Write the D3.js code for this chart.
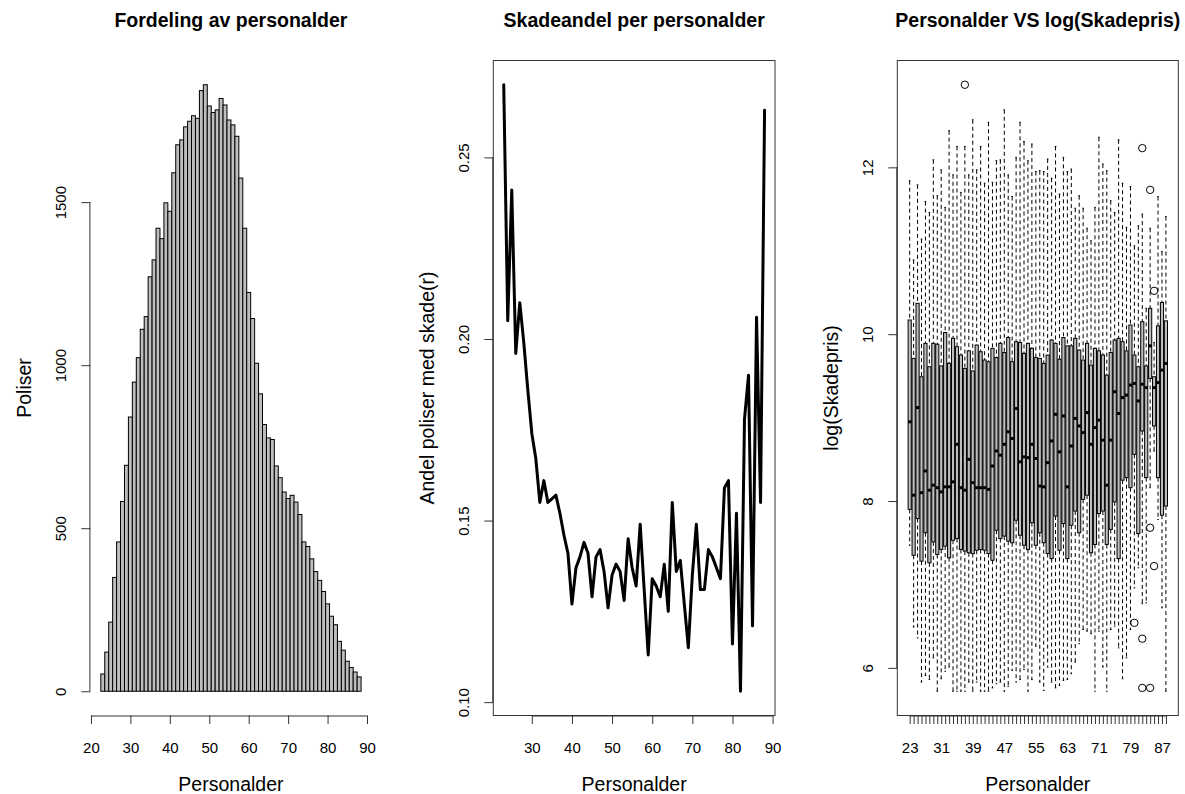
<!DOCTYPE html>
<html>
<head>
<meta charset="utf-8">
<script src="https://cdn.jsdelivr.net/npm/d3@7"></script>
<style>
body { margin: 0; background: #fff; }
text { font-family: "Liberation Sans", Arial, sans-serif; fill: #000; }
</style>
</head>
<body>
<script>
// ages (one bin / one box per age)
var ages = [23,24,25,26,27,28,29,30,31,32,33,34,35,36,37,38,39,40,41,42,43,44,
            45,46,47,48,49,50,51,52,53,54,55,56,57,58,59,60,61,62,63,64,65,66,
            67,68,69,70,71,72,73,74,75,76,77,78,79,80,81,82,83,84,85,86,87,88];

// histogram counts per age
var policyCounts = [53,120,212,349,458,582,693,841,948,1023,1110,1149,1271,1323,1420,1388,1498,1472,
                    1590,1676,1691,1731,1748,1765,1757,1842,1860,1795,1775,1783,1818,1798,1752,1737,
                    1702,1574,1420,1223,1143,1006,912,818,777,772,691,655,611,591,601,580,542,458,
                    444,406,367,340,306,268,230,204,153,126,92,73,59,44];

// share of policies with a claim, per age
var claimShare = [0.270,0.205,0.241,0.196,0.210,0.199,0.186,0.174,0.167,0.155,0.161,0.155,0.156,0.157,
                  0.152,0.146,0.141,0.127,0.137,0.140,0.144,0.141,0.129,0.140,0.142,0.136,0.126,0.135,
                  0.138,0.136,0.128,0.145,0.137,0.132,0.149,0.131,0.113,0.134,0.132,0.129,0.138,0.125,
                  0.155,0.136,0.139,0.127,0.115,0.135,0.149,0.131,0.131,0.142,0.140,0.137,0.134,0.159,
                  0.161,0.116,0.152,0.103,0.178,0.190,0.121,0.206,0.155,0.263];

// boxplot stats of log(Skadepris) per age
var boxLow = [7.47,6.49,6.36,5.83,5.91,5.86,6.12,5.72,5.87,5.96,6.01,5.72,5.72,5.72,5.72,5.83,5.72,5.83,
              5.72,5.72,5.72,5.76,5.81,5.83,5.72,5.78,5.97,5.83,5.86,5.98,5.72,5.86,6.26,5.83,5.73,6.01,
              5.83,5.76,5.79,5.85,5.86,5.93,6.07,6.29,6.46,6.44,6.41,5.72,6.44,6.01,5.72,6.46,6.50,6.24,
              5.87,6.12,6.46,6.96,7.20,6.77,6.78,8.16,8.60,7.78,6.72,5.72];
var boxQ1 = [7.90,7.35,7.79,7.28,7.62,7.26,7.51,7.36,7.42,7.46,7.32,7.53,7.55,7.42,7.40,7.38,7.37,7.41,
             7.42,7.41,7.37,7.29,7.65,7.55,7.58,7.52,7.50,7.77,7.59,7.47,7.42,7.74,7.47,7.62,7.50,7.37,
             7.31,7.82,7.41,7.73,7.31,7.71,7.88,7.62,8.02,8.07,7.38,7.48,7.85,7.88,7.48,7.66,7.99,7.31,
             8.25,8.28,8.16,8.56,7.61,8.84,8.28,9.47,8.90,8.28,7.83,7.94];
var boxMed = [8.95,8.07,9.12,8.10,8.36,8.13,8.19,8.16,8.11,8.17,8.17,8.23,8.68,8.16,8.13,8.50,8.22,8.16,
              8.16,8.16,8.14,8.42,8.60,8.55,8.68,8.83,8.75,9.11,8.47,8.53,8.52,8.68,8.51,8.18,8.17,8.46,
              8.72,9.04,8.59,9.02,8.17,8.66,8.99,8.90,8.82,9.06,8.68,8.88,8.97,8.73,8.19,8.73,9.31,9.05,
              9.24,9.27,9.39,9.41,9.20,9.40,9.36,9.86,9.36,9.42,9.57,9.65];
var boxQ3 = [10.17,9.71,10.37,9.49,9.89,9.61,9.89,9.88,9.62,10.02,9.65,9.95,9.85,9.75,9.59,9.80,9.56,9.87,
             9.79,9.69,9.67,9.83,9.72,9.89,9.78,9.96,9.67,9.91,9.90,9.77,9.89,9.83,9.72,9.71,9.65,9.75,
             9.93,9.89,9.70,9.96,9.86,9.86,9.95,9.81,9.69,9.89,9.63,9.83,9.80,9.75,9.51,9.78,9.93,9.95,
             9.91,9.80,10.11,9.75,9.61,10.15,9.62,10.31,9.49,10.10,10.38,10.16];
var boxHigh = [11.84,10.89,11.79,11.14,11.59,11.46,12.09,11.66,11.97,11.52,12.44,11.91,12.25,11.70,12.25,11.91,
               12.57,11.97,12.25,11.81,12.54,11.82,12.08,12.09,12.69,11.91,11.65,12.12,12.54,12.31,12.08,12.28,
               11.95,11.96,11.95,12.10,11.87,12.25,11.68,12.12,11.95,11.98,11.51,11.66,11.51,11.27,11.12,11.52,
               12.36,12.04,11.96,11.60,11.46,12.33,11.81,11.28,11.77,11.06,11.30,11.44,10.31,11.27,9.90,11.65,
               10.99,11.41];
var outlierAge = [37,80,82,82,82,84,84,84,85,85];
var outlierValue = [12.99,6.54,12.23,6.35,5.76,11.73,7.68,5.76,10.52,7.22];

var titles = ["Fordeling av personalder", "Skadeandel per personalder", "Personalder VS log(Skadepris)"];

var plotTop = 60.5, plotBottom = 715.5;
var font = "'Liberation Sans', Arial, sans-serif";
var lineCol = "#333";

function pad(ext) { var r = ext[1] - ext[0]; return [ext[0] - 0.04 * r, ext[1] + 0.04 * r]; }

var svg = d3.select("body").append("svg")
    .attr("width", 1185)
    .attr("height", 794);

function bottomAxis(scale, ticks, fmt) {
  var g = svg.append("g")
    .attr("transform", "translate(0," + plotBottom + ")")
    .call(d3.axisBottom(scale).tickValues(ticks).tickFormat(fmt).tickSize(8.5).tickSizeOuter(0));
  g.attr("font-size", 15).attr("font-family", font).attr("color", lineCol);
  g.select(".domain").attr("d", "M" + scale(ticks[0]) + ",0.5H" + scale(ticks[ticks.length - 1]));
  g.selectAll("text").attr("y", 37).attr("dy", null).style("fill", "#000");
  return g;
}

function leftAxis(scale, ticks, fmt, x) {
  var g = svg.append("g")
    .attr("transform", "translate(" + x + ",0)")
    .call(d3.axisLeft(scale).tickValues(ticks).tickFormat(fmt).tickSize(9).tickSizeOuter(0));
  g.attr("font-size", 15).attr("font-family", font).attr("color", lineCol);
  g.select(".domain").attr("d", "M-0.5," + scale(ticks[0]) + "V" + scale(ticks[ticks.length - 1]));
  g.selectAll("text")
    .attr("x", 0).attr("y", -24).attr("dy", null)
    .attr("text-anchor", "middle")
    .attr("transform", "rotate(-90)")
    .style("fill", "#000");
  return g;
}

function labels(i, left, right, xlab, ylab) {
  var cx = (left + right) / 2;
  svg.append("text")
    .attr("x", cx).attr("y", 27)
    .attr("text-anchor", "middle")
    .attr("font-size", 19.5).attr("font-weight", "bold")
    .text(titles[i]);
  svg.append("text")
    .attr("x", cx).attr("y", 791)
    .attr("text-anchor", "middle")
    .attr("font-size", 19.5)
    .text(xlab);
  svg.append("text")
    .attr("transform", "translate(" + (left - 59) + "," + ((plotTop + plotBottom) / 2) + ") rotate(-90)")
    .attr("text-anchor", "middle")
    .attr("font-size", 19.5)
    .text(ylab);
}

// ---------- panel 1: histogram ----------
var hL = 90.4, hR = 371.5;
var hx = d3.scaleLinear().domain(pad([ages[0] - 0.5, ages[ages.length - 1] + 0.5])).range([hL, hR]);
var hy = d3.scaleLinear().domain(pad([0, d3.max(policyCounts)])).range([plotBottom, plotTop]);

svg.append("g").selectAll("rect")
  .data(ages)
  .enter().append("rect")
  .attr("x", function(d) { return hx(d - 0.5); })
  .attr("width", function(d) { return hx(d + 0.5) - hx(d - 0.5); })
  .attr("y", function(d, i) { return hy(policyCounts[i]); })
  .attr("height", function(d, i) { return hy(0) - hy(policyCounts[i]); })
  .attr("fill", "#bebebe")
  .attr("stroke", "#000")
  .attr("stroke-width", 1);

bottomAxis(hx, [20,30,40,50,60,70,80,90], d3.format("d"));
leftAxis(hy, [0,500,1000,1500], d3.format("d"), hL);
labels(0, hL, hR, "Personalder", "Poliser");

// ---------- panel 2: claim share line ----------
var mL = 493.3, mR = 775;
var mx = d3.scaleLinear().domain(pad(d3.extent(ages))).range([mL, mR]);
var my = d3.scaleLinear().domain(pad(d3.extent(claimShare))).range([plotBottom, plotTop]);

svg.append("path")
  .datum(ages)
  .attr("fill", "none")
  .attr("stroke", "#000")
  .attr("stroke-width", 3)
  .attr("stroke-linejoin", "round")
  .attr("stroke-linecap", "round")
  .attr("d", d3.line()
    .x(function(d) { return mx(d); })
    .y(function(d, i) { return my(claimShare[i]); }));

svg.append("rect")
  .attr("x", mL).attr("y", plotTop)
  .attr("width", mR - mL).attr("height", plotBottom - plotTop)
  .attr("fill", "none").attr("stroke", lineCol);

bottomAxis(mx, [30,40,50,60,70,80,90], d3.format("d"));
leftAxis(my, [0.10,0.15,0.20,0.25], d3.format(".2f"), mL);
labels(1, mL, mR, "Personalder", "Andel poliser med skade(r)");

// ---------- panel 3: boxplots ----------
var bL = 897.3, bR = 1178.3;
var idx = ages.map(function(d, i) { return i + 1; });
var bx = d3.scaleLinear().domain(pad([0.5, ages.length + 0.5])).range([bL, bR]);
var allVals = boxLow.concat(boxHigh, outlierValue);
var by = d3.scaleLinear().domain(pad(d3.extent(allVals))).range([plotBottom, plotTop]);
var bw = (bx(1) - bx(0)) * 0.8;

var box = svg.append("g").selectAll("g")
  .data(idx)
  .enter().append("g");

// whiskers
box.append("line")
  .attr("x1", function(d) { return bx(d); }).attr("x2", function(d) { return bx(d); })
  .attr("y1", function(d) { return by(boxHigh[d - 1]); })
  .attr("y2", function(d) { return by(boxQ3[d - 1]); })
  .attr("stroke", "#000").attr("stroke-dasharray", "4,3");
box.append("line")
  .attr("x1", function(d) { return bx(d); }).attr("x2", function(d) { return bx(d); })
  .attr("y1", function(d) { return by(boxQ1[d - 1]); })
  .attr("y2", function(d) { return by(boxLow[d - 1]); })
  .attr("stroke", "#000").attr("stroke-dasharray", "4,3");
// staples
[boxHigh, boxLow].forEach(function(arr) {
  box.append("line")
    .attr("x1", function(d) { return bx(d) - bw / 4; })
    .attr("x2", function(d) { return bx(d) + bw / 4; })
    .attr("y1", function(d) { return by(arr[d - 1]); })
    .attr("y2", function(d) { return by(arr[d - 1]); })
    .attr("stroke", "#000");
});
// boxes
box.append("rect")
  .attr("x", function(d) { return bx(d) - bw / 2; })
  .attr("width", bw)
  .attr("y", function(d) { return by(boxQ3[d - 1]); })
  .attr("height", function(d) { return by(boxQ1[d - 1]) - by(boxQ3[d - 1]); })
  .attr("fill", "#bebebe")
  .attr("stroke", "#000");
// medians
box.append("line")
  .attr("x1", function(d) { return bx(d) - bw / 2; })
  .attr("x2", function(d) { return bx(d) + bw / 2; })
  .attr("y1", function(d) { return by(boxMed[d - 1]); })
  .attr("y2", function(d) { return by(boxMed[d - 1]); })
  .attr("stroke", "#000").attr("stroke-width", 3);

svg.append("g").selectAll("circle")
  .data(outlierAge)
  .enter().append("circle")
  .attr("cx", function(d) { return bx(ages.indexOf(d) + 1); })
  .attr("cy", function(d, i) { return by(outlierValue[i]); })
  .attr("r", 3.7)
  .attr("fill", "none")
  .attr("stroke", "#000");

svg.append("rect")
  .attr("x", bL).attr("y", plotTop)
  .attr("width", bR - bL).attr("height", plotBottom - plotTop)
  .attr("fill", "none").attr("stroke", lineCol);

bottomAxis(bx, idx, function(d) { return (d - 1) % 8 === 0 ? ages[d - 1] : ""; });
leftAxis(by, [6,8,10,12], d3.format("d"), bL);
labels(2, bL, bR, "Personalder", "log(Skadepris)");
</script>
</body>
</html>
